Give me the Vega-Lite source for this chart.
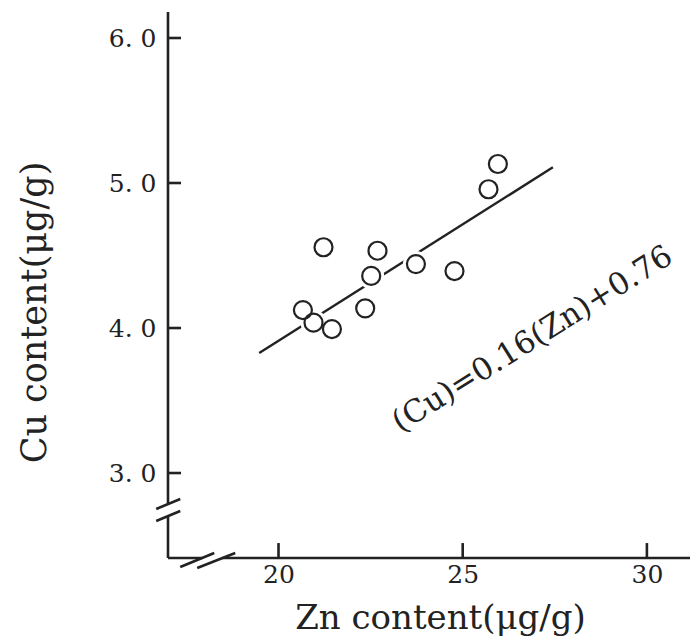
{
  "$schema": "https://vega.github.io/schema/vega-lite/v6.json",
  "width": 522,
  "height": 549,
  "padding": {"left": 168, "top": 9, "right": 0, "bottom": 82},
  "autosize": {"type": "none"},
  "background": "white",
  "config": {"view": {"stroke": null}},
  "datasets": {
    "points": [
      {"x": 20.662, "y": 4.124},
      {"x": 20.950, "y": 4.037},
      {"x": 21.450, "y": 3.993},
      {"x": 21.221, "y": 4.557},
      {"x": 22.353, "y": 4.136},
      {"x": 22.516, "y": 4.359},
      {"x": 22.687, "y": 4.533},
      {"x": 23.730, "y": 4.441},
      {"x": 24.777, "y": 4.393},
      {"x": 25.700, "y": 4.957},
      {"x": 25.955, "y": 5.131}
    ],
    "fit": [
      {"x": 19.476, "y": 3.828, "x2": 27.448, "y2": 5.108}
    ],
    "frame": [
      {"part": "y axis upper", "x": 17, "y": 6.18, "x2": 17, "y2": 2.786},
      {"part": "y axis lower", "x": 17, "y": 2.703, "x2": 17, "y2": 2.414},
      {"part": "x axis left", "x": 17, "y": 2.414, "x2": 17.929, "y2": 2.414},
      {"part": "x axis right", "x": 18.472, "y": 2.414, "x2": 31.17, "y2": 2.414},
      {"part": "y break 1", "x": 16.68, "y": 2.752, "x2": 17.332, "y2": 2.821},
      {"part": "y break 2", "x": 16.68, "y": 2.669, "x2": 17.332, "y2": 2.738},
      {"part": "x break 1", "x": 17.332, "y": 2.352, "x2": 18.255, "y2": 2.448},
      {"part": "x break 2", "x": 17.793, "y": 2.345, "x2": 18.825, "y2": 2.448},
      {"part": "y tick 3", "x": 17, "y": 3, "x2": 17.353, "y2": 3},
      {"part": "y tick 4", "x": 17, "y": 4, "x2": 17.353, "y2": 4},
      {"part": "y tick 5", "x": 17, "y": 5, "x2": 17.353, "y2": 5},
      {"part": "y tick 6", "x": 17, "y": 6, "x2": 17.353, "y2": 6},
      {"part": "x tick 20", "x": 20, "y": 2.414, "x2": 20, "y2": 2.517},
      {"part": "x tick 25", "x": 25, "y": 2.414, "x2": 25, "y2": 2.517},
      {"part": "x tick 30", "x": 30, "y": 2.414, "x2": 30, "y2": 2.517}
    ],
    "note": [
      {"x": 26.9, "y": 3.92, "label": "(Cu)=0.16(Zn)+0.76"}
    ]
  },
  "encoding": {
    "x": {
      "field": "x",
      "type": "quantitative",
      "scale": {"domain": [17, 31.17], "nice": false, "zero": false},
      "axis": {
        "values": [20, 25, 30],
        "domain": false,
        "grid": false,
        "ticks": false,
        "tickSize": 0,
        "labelFont": "DejaVu Serif",
        "labelFontSize": 25,
        "labelColor": "#222222",
        "labelPadding": 4,
        "labelFlush": false,
        "title": "Zn content(μg/g)",
        "titleFont": "DejaVu Serif",
        "titleFontSize": 34,
        "titleFontWeight": "normal",
        "titleColor": "#222222",
        "titleBaseline": "alphabetic",
        "titleX": 272,
        "titleY": 70
      }
    },
    "y": {
      "field": "y",
      "type": "quantitative",
      "scale": {"domain": [2.414, 6.2], "nice": false, "zero": false},
      "axis": {
        "values": [3, 4, 5, 6],
        "labelExpr": "replace(format(datum.value, '.1f'), '.', '. ')",
        "domain": false,
        "grid": false,
        "ticks": false,
        "tickSize": 0,
        "labelFont": "DejaVu Serif",
        "labelFontSize": 25,
        "labelColor": "#222222",
        "labelPadding": 12,
        "labelFlush": false,
        "title": "Cu content(μg/g)",
        "titleFont": "DejaVu Serif",
        "titleFontSize": 35,
        "titleFontWeight": "normal",
        "titleColor": "#222222",
        "titleBaseline": "alphabetic",
        "titleX": -123,
        "titleY": 303
      }
    }
  },
  "layer": [
    {
      "data": {"name": "frame"},
      "mark": {"type": "rule", "stroke": "#222222", "strokeWidth": 2.6, "clip": false},
      "encoding": {"x2": {"field": "x2"}, "y2": {"field": "y2"}}
    },
    {
      "data": {"name": "fit"},
      "mark": {"type": "rule", "stroke": "#222222", "strokeWidth": 2.4},
      "encoding": {"x2": {"field": "x2"}, "y2": {"field": "y2"}}
    },
    {
      "data": {"name": "points"},
      "mark": {"type": "point", "shape": "circle", "size": 324, "filled": true, "fill": "white", "stroke": "white", "strokeWidth": 8, "opacity": 1}
    },
    {
      "data": {"name": "points"},
      "mark": {"type": "point", "shape": "circle", "size": 324, "filled": false, "fill": "white", "fillOpacity": 0, "stroke": "#222222", "strokeWidth": 2.2, "opacity": 1}
    },
    {
      "data": {"name": "note"},
      "mark": {"type": "text", "font": "DejaVu Serif", "fontSize": 31, "angle": -32, "align": "center", "baseline": "middle", "color": "#222222"},
      "encoding": {"text": {"field": "label"}}
    }
  ]
}
